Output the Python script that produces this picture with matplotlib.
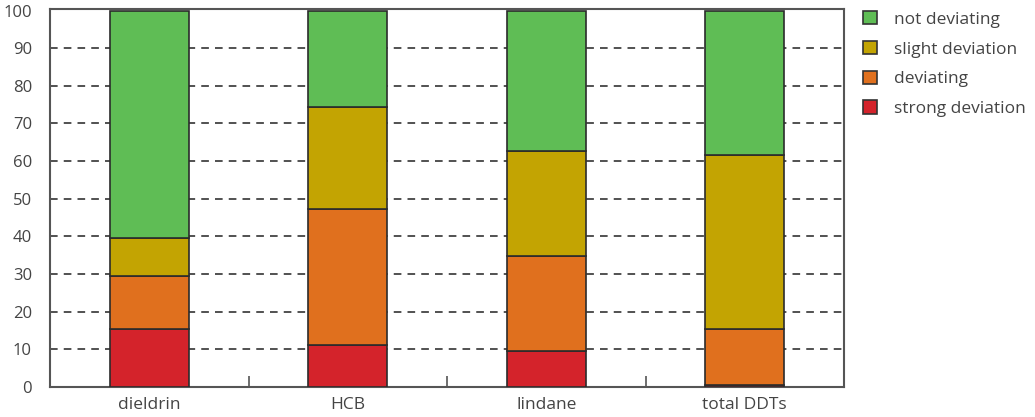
import matplotlib
matplotlib.use("Agg")
import matplotlib.pyplot as plt
from matplotlib.patches import Patch

plt.rcParams['font.family'] = ['Open Sans', 'DejaVu Sans']

# data (percentages)
categories = ['dieldrin', 'HCB', 'lindane', 'total DDTs']
strong = [15.4, 11.1, 9.5, 0.5]
deviating = [14.0, 36.1, 25.3, 14.9]
slight = [10.1, 27.1, 27.9, 46.1]
not_dev = [60.5, 25.7, 37.3, 38.5]

series = [('strong deviation', strong, '#D4232B'),
          ('deviating', deviating, '#E0701E'),
          ('slight deviation', slight, '#C3A402'),
          ('not deviating', not_dev, '#5FBD55')]

fig = plt.figure(figsize=(10.35, 4.17), dpi=100)
ax = fig.add_axes([50/1035, 30/417, 794/1035, 378/417])

x = list(range(len(categories)))
bottom = [0.0] * len(categories)
for name, vals, col in series:
    ax.bar(x, vals, width=0.4, bottom=bottom, color=col, edgecolor='#2b2b2b',
           linewidth=1.2, zorder=3)
    bottom = [b + v for b, v in zip(bottom, vals)]

ax.set_xlim(-0.5, 3.5)
ax.set_ylim(0, 100.4)
ax.set_yticks(range(0, 101, 10))
ax.set_xticks(x)
ax.set_xticklabels(categories)
ax.set_xticks([0.5, 1.5, 2.5], minor=True)
ax.tick_params(axis='x', which='major', length=0, pad=7, labelsize=12.5, labelcolor='#444444')
ax.tick_params(axis='x', which='minor', direction='in', length=8, width=1.2, color='#555555')
ax.tick_params(axis='y', length=0, pad=13, labelsize=12, labelcolor='#444444')

for yv in range(10, 100, 10):
    ax.axhline(yv, color='#222222', linestyle=(0, (5, 4)), linewidth=1.1, zorder=1)

for s in ax.spines.values():
    s.set_color('#555555')
    s.set_linewidth(1.5)

handles = [Patch(facecolor=col, edgecolor='#333333', linewidth=1.2, label=name)
           for name, vals, col in series[::-1]]
fig.legend(handles=handles, loc='upper left', bbox_to_anchor=(847/1035, 1.012),
           frameon=False, fontsize=12.5, handlelength=0.85, handleheight=0.85,
           labelspacing=0.75, handletextpad=0.95, labelcolor='#444444')

fig.savefig('out.png', dpi=100)
